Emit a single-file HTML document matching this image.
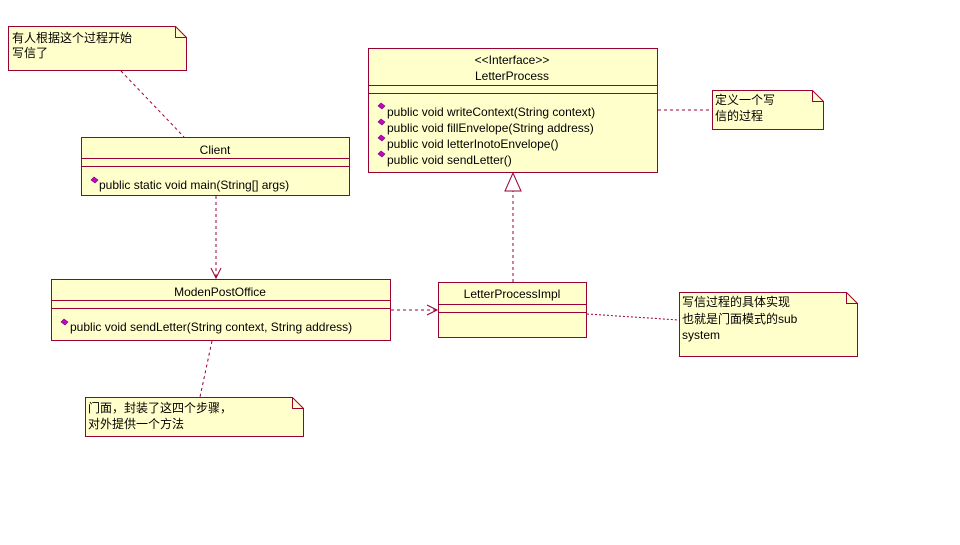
<!DOCTYPE html>
<html><head><meta charset="utf-8"><style>
body{margin:0;background:#fff;width:960px;height:540px;overflow:hidden}
svg text{font-family:"Liberation Sans","Noto Sans CJK SC",sans-serif;font-size:12px;fill:#000}
</style></head><body>
<svg width="960" height="540" xmlns="http://www.w3.org/2000/svg">
<defs>
<g id="d"><path d="M0,3 L3,0 L7,3 L4,6 Z" fill="#cc00cc" stroke="#660066" stroke-width="0.6"/></g>
</defs>
<g stroke="#990033" fill="none" stroke-width="1">
<!-- connectors -->
<line x1="121" y1="71" x2="184" y2="137" stroke-dasharray="3,3"/>
<line x1="216" y1="196" x2="216" y2="278" stroke-dasharray="3,3"/>
<polyline points="211,268 216,278 221,268"/>
<line x1="391" y1="310" x2="437" y2="310" stroke-dasharray="3,3"/>
<polyline points="427,305 437,310 427,315"/>
<line x1="513" y1="282" x2="513" y2="191" stroke-dasharray="3,3"/>
<polygon points="513,173 505,191 521,191" fill="#fff"/>
<line x1="658" y1="110" x2="712" y2="110" stroke-dasharray="3,3"/>
<line x1="587" y1="314" x2="679" y2="320" stroke-dasharray="2,2"/>
<line x1="212" y1="341" x2="200" y2="397" stroke-dasharray="3,3"/>
</g>
<g stroke="#990033" fill="#ffffcc" stroke-width="1">
<!-- notes -->
<path d="M8.5,26.5 H175.5 L186.5,37.5 V70.5 H8.5 Z"/><path d="M175.5,26.5 V37.5 H186.5" fill="none"/>
<path d="M712.5,90.5 H812.5 L823.5,101.5 V129.5 H712.5 Z"/><path d="M812.5,90.5 V101.5 H823.5" fill="none"/>
<path d="M679.5,292.5 H846.5 L857.5,303.5 V356.5 H679.5 Z"/><path d="M846.5,292.5 V303.5 H857.5" fill="none"/>
<path d="M85.5,397.5 H292.5 L303.5,408.5 V436.5 H85.5 Z"/><path d="M292.5,397.5 V408.5 H303.5" fill="none"/>
<!-- classes -->
<rect x="81.5" y="137.5" width="268" height="58"/>
<line x1="81.5" y1="158.5" x2="349.5" y2="158.5"/><line x1="81.5" y1="166.5" x2="349.5" y2="166.5"/>
<rect x="368.5" y="48.5" width="289" height="124"/>
<line x1="368.5" y1="85.5" x2="657.5" y2="85.5"/><line x1="368.5" y1="93.5" x2="657.5" y2="93.5"/>
<rect x="51.5" y="279.5" width="339" height="61"/>
<line x1="51.5" y1="300.5" x2="390.5" y2="300.5"/><line x1="51.5" y1="308.5" x2="390.5" y2="308.5"/>
<rect x="438.5" y="282.5" width="148" height="55"/>
<line x1="438.5" y1="304.5" x2="586.5" y2="304.5"/><line x1="438.5" y1="312.5" x2="586.5" y2="312.5"/>
</g>
<text x="12" y="42">有人根据这个过程开始</text>
<text x="12" y="57">写信了</text>
<text x="715" y="104">定义一个写</text>
<text x="715" y="120">信的过程</text>
<text x="682" y="306">写信过程的具体实现</text>
<text x="682" y="323">也就是门面模式的sub</text>
<text x="682" y="339">system</text>
<text x="88" y="412">门面，封装了这四个步骤，</text>
<text x="88" y="428">对外提供一个方法</text>
<text x="215" y="154" text-anchor="middle">Client</text>
<use href="#d" x="91" y="177"/><text x="99" y="189">public static void main(String[] args)</text>
<text x="512" y="64" text-anchor="middle">&lt;&lt;Interface&gt;&gt;</text>
<text x="512" y="80" text-anchor="middle">LetterProcess</text>
<use href="#d" x="378" y="103"/><text x="387" y="116">public void writeContext(String context)</text>
<use href="#d" x="378" y="119"/><text x="387" y="132">public void fillEnvelope(String address)</text>
<use href="#d" x="378" y="135"/><text x="387" y="148">public void letterInotoEnvelope()</text>
<use href="#d" x="378" y="151"/><text x="387" y="164">public void sendLetter()</text>
<text x="220" y="296" text-anchor="middle">ModenPostOffice</text>
<use href="#d" x="61" y="319"/><text x="70" y="331">public void sendLetter(String context, String address)</text>
<text x="512" y="298" text-anchor="middle">LetterProcessImpl</text>
</svg>
</body></html>
